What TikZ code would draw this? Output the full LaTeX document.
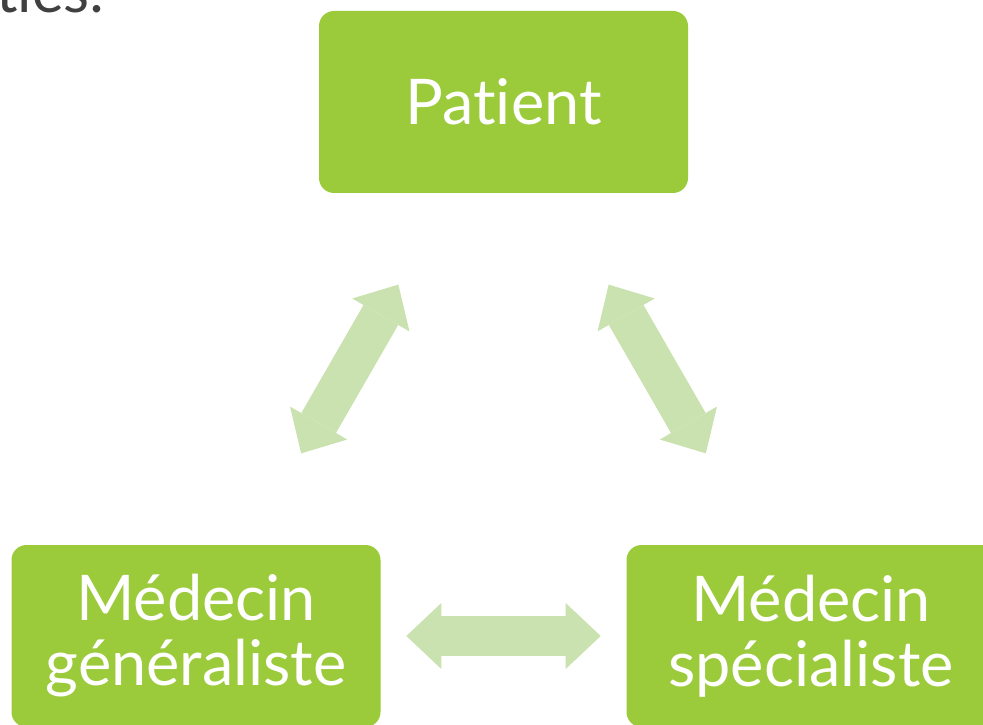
\documentclass[tikz,border=0pt]{standalone}
\usepackage{fontspec}
\setmainfont{Lato}[RawFeature={-liga;-clig;-calt;-dlig}]
\usepackage{xcolor}
\usetikzlibrary{positioning,calc,arrows.meta}
\definecolor{boxgreen}{HTML}{9BCB3B}
\definecolor{arrowgreen}{HTML}{C9E2B0}
\definecolor{titlegray}{HTML}{404040}

\begin{document}
\begin{tikzpicture}[x=1pt, y=1pt,
	box/.style={fill=boxgreen, rounded corners=15pt, minimum width=369pt, minimum height=182pt, text=white, align=center, font=\fontsize{63}{65}\selectfont},
	link/.style={arrowgreen, line width=40pt, {Triangle[length=35pt 0, width=66pt 0, line width=0pt]}-{Triangle[length=35pt 0, width=66pt 0, line width=0pt]}}]
	\useasboundingbox (0,0) rectangle (983,724);
	\node[anchor=base east, inner sep=0pt, text=titlegray, font=\fontsize{60}{60}\selectfont] (title) at (105,711) {ties:};
	\node[box] (pat) at (503.5,622) {Patient};
	\node[box] (gen) at (196,88) {Médecin\\généraliste};
	\node[box] (spe) at (811,88) {Médecin\\spécialiste};
	\draw[link] ($(pat)!0.342!(gen)$) -- ($(gen)!0.342!(pat)$);
	\draw[link] ($(pat)!0.342!(spe)$) -- ($(spe)!0.342!(pat)$);
	\draw[link] ($(gen)!0.342!(spe)$) -- ($(spe)!0.342!(gen)$);
\end{tikzpicture}
\end{document}
